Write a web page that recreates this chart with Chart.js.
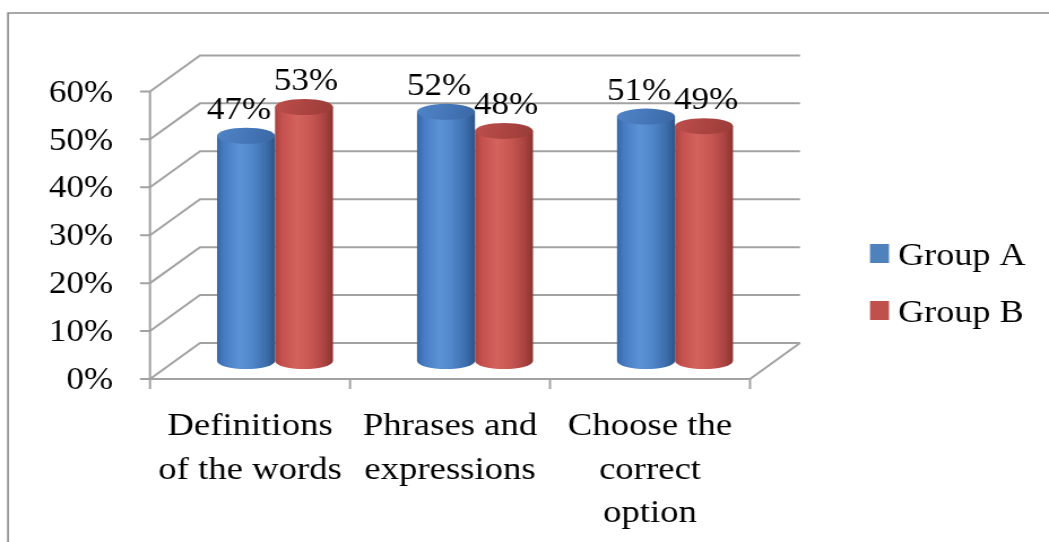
<!DOCTYPE html>
<html>
<head>
<meta charset="utf-8">
<script src="https://cdn.jsdelivr.net/npm/chart.js@4"></script>
<style>
  html, body { margin: 0; padding: 0; background: #fff; overflow: hidden; }
  /* Drawn on a narrower canvas and widened, giving the wide serif lettering */
  #wrap { position: absolute; left: 0; top: 0; width: 928px; height: 542px;
          transform: scaleX(1.13039); transform-origin: 0 0; }
</style>
</head>
<body>
<div id="wrap"><canvas id="c"></canvas></div>
<script>
// ---- data ----
const categories = [
  ['Definitions', 'of the words'],
  ['Phrases and', 'expressions'],
  ['Choose the', 'correct', 'option']
];
const seriesNames = ['Group A', 'Group B'];
const groupA = [47, 52, 51];
const groupB = [53, 48, 49];
const yTickValues = [0, 10, 20, 30, 40, 50, 60];

// ---- look ----
const S = 1049 / 928;          // horizontal widening applied by CSS
const DX = 25 / S;             // half depth of the 3-D box, x
const DY = 18;                 // half depth of the 3-D box, y
const FONT = '"Liberation Serif", "Times New Roman", serif';
const frameColor = '#a2a2a2';
const seriesColors = ['#4F81BD', '#C0504D'];
const labelShift = [-7 / S, 2 / S];   // value labels nudged apart
const shades = [
  { body: [[0, '#3766a6'], [0.12, '#477cc2'], [0.38, '#5b93d6'], [0.6, '#5088cb'], [0.85, '#3c6cab'], [1, '#2c5689']],
    cap:  [[0, '#5084c6'], [0.5, '#4677b9'], [1, '#3a67a3']] },
  { body: [[0, '#a9423f'], [0.12, '#c4514e'], [0.38, '#d4625d'], [0.6, '#c95854'], [0.85, '#ab4441'], [1, '#8a3230']],
    cap:  [[0, '#bd4f4b'], [0.5, '#ac4542'], [1, '#9a3b38']] }
];

function cylinder(ctx, cx, top, base, rx, ry, shade) {
  const g = ctx.createLinearGradient(cx - rx, 0, cx + rx, 0);
  shade.body.forEach(([o, c]) => g.addColorStop(o, c));
  ctx.beginPath();
  ctx.moveTo(cx - rx, top);
  ctx.lineTo(cx - rx, base);
  ctx.ellipse(cx, base, rx, ry, 0, Math.PI, 0, true);
  ctx.lineTo(cx + rx, top);
  ctx.closePath();
  ctx.fillStyle = g;
  ctx.fill();
  const gc = ctx.createLinearGradient(cx - rx, top - ry, cx + rx, top + ry);
  shade.cap.forEach(([o, c]) => gc.addColorStop(o, c));
  ctx.beginPath();
  ctx.ellipse(cx, top, rx, ry, 0, 0, Math.PI * 2);
  ctx.fillStyle = gc;
  ctx.fill();
}

const box3d = {
  id: 'box3d',
  beforeDraw(chart) {
    const ctx = chart.ctx;
    ctx.save();
    ctx.strokeStyle = '#8c8c8c';
    ctx.lineWidth = 1.6;
    ctx.beginPath();
    ctx.moveTo(8 / S, chart.height + 5);
    ctx.lineTo(8 / S, 13);
    ctx.lineTo(chart.width + 5, 13);
    ctx.stroke();
    ctx.restore();
  },
  beforeDatasetsDraw(chart) {
    const { ctx, chartArea: a, scales: { x, y } } = chart;
    const fl = a.left - DX, bl = a.left + DX, br = a.right + DX, fr = a.right - DX;
    ctx.save();
    ctx.strokeStyle = frameColor;
    ctx.lineWidth = 2;
    // side wall + back wall gridlines, with front tick marks
    y.ticks.forEach(t => {
      const ym = y.getPixelForValue(t.value);
      ctx.beginPath();
      ctx.moveTo(fl - 10 / S, ym + DY);
      ctx.lineTo(fl, ym + DY);
      ctx.lineTo(bl, ym - DY);
      ctx.lineTo(br, ym - DY);
      ctx.stroke();
    });
    const y0 = y.getPixelForValue(0);
    const yMax = y.getPixelForValue(y.max);
    // front value axis and floor edges
    ctx.beginPath();
    ctx.moveTo(fl, yMax + DY);
    ctx.lineTo(fl, y0 + DY);
    ctx.lineTo(fr, y0 + DY);
    ctx.lineTo(br, y0 - DY);
    ctx.stroke();
    // category separators below the floor
    const half = (x.getPixelForValue(1) - x.getPixelForValue(0)) / 2;
    for (let i = 0; i <= categories.length; i++) {
      const xb = x.getPixelForValue(0) - half + i * 2 * half - DX;
      ctx.beginPath();
      ctx.moveTo(xb, y0 + DY);
      ctx.lineTo(xb, y0 + DY + 10);
      ctx.stroke();
    }
    ctx.restore();
  },
  beforeDatasetDraw() { return false; },
  afterDatasetsDraw(chart) {
    const ctx = chart.ctx;
    ctx.save();
    chart.data.datasets.forEach((ds, di) => {
      chart.getDatasetMeta(di).data.forEach(bar => {
        const p = bar.getProps(['x', 'y', 'base', 'width'], true);
        cylinder(ctx, p.x, p.y, p.base, p.width / 2, 8, shades[di]);
      });
    });
    ctx.fillStyle = '#000';
    ctx.font = '31px ' + FONT;
    ctx.textAlign = 'center';
    ctx.textBaseline = 'middle';
    chart.data.datasets.forEach((ds, di) => {
      chart.getDatasetMeta(di).data.forEach((bar, i) => {
        const p = bar.getProps(['x', 'y'], true);
        ctx.fillText(ds.data[i] + '%', p.x + labelShift[di], p.y - 25);
      });
    });
    ctx.restore();
  },
  afterDraw(chart) {
    const ctx = chart.ctx;
    ctx.save();
    ctx.font = '32px ' + FONT;
    ctx.textBaseline = 'alphabetic';
    ctx.textAlign = 'left';
    chart.data.datasets.forEach((ds, i) => {
      const top = 244 + i * 57;
      ctx.fillStyle = ds.backgroundColor;
      ctx.fillRect(870 / S, top, 19 / S, 19);
      ctx.fillStyle = '#000';
      ctx.fillText(ds.label, 898 / S, top + 21);
    });
    ctx.restore();
  }
};

new Chart(document.getElementById('c'), {
  type: 'bar',
  data: {
    labels: categories,
    datasets: [
      { label: seriesNames[0], data: groupA, backgroundColor: seriesColors[0] },
      { label: seriesNames[1], data: groupB, backgroundColor: seriesColors[1] }
    ]
  },
  options: {
    responsive: true,
    maintainAspectRatio: false,
    animation: false,
    devicePixelRatio: 1,
    layout: { padding: { top: 72, left: 0, right: 928 - 775 / S, bottom: 0 } },
    plugins: { legend: { display: false }, tooltip: { enabled: false } },
    datasets: { bar: { categoryPercentage: 0.58, barPercentage: 1 } },
    scales: {
      x: {
        grid: { display: false, drawTicks: false },
        border: { display: false },
        ticks: {
          color: '#000',
          font: { family: FONT, size: 32.5, lineHeight: 1.34 },
          padding: 44,
          labelOffset: -DX,
          maxRotation: 0,
          autoSkip: false
        },
        afterFit: s => { s.height = 542 - 361; }
      },
      y: {
        min: 0,
        max: 60,
        grid: { display: false, drawTicks: false },
        border: { display: false },
        afterBuildTicks: s => { s.ticks = yTickValues.map(v => ({ value: v })); },
        ticks: {
          color: '#000',
          font: { family: FONT, size: 31 },
          padding: 175 / S - 113 / S,
          labelOffset: DY + 2,
          callback: v => v + '%'
        },
        afterFit: s => { s.width = 175 / S; }
      }
    }
  },
  plugins: [box3d]
});
</script>
</body>
</html>
